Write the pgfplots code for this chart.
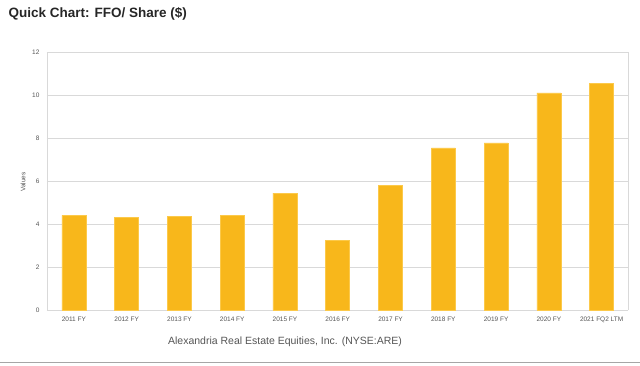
\documentclass[border=0pt]{standalone}
\usepackage{fontspec}
\setmainfont{Liberation Sans}
\usepackage{pgfplots}
\pgfplotsset{compat=1.18}
\definecolor{barc}{HTML}{F8B71B}
\definecolor{baredge}{HTML}{FCC94A}
\definecolor{gridc}{HTML}{D9D9D9}
\definecolor{txtc}{HTML}{555555}
\begin{document}
\begin{tikzpicture}
\path[use as bounding box] (0,0) rectangle (640pt,-365pt);
\node[anchor=west, font=\bfseries\fontsize{13.5}{14}\selectfont, text=black!85] at (5pt,-14pt) {Quick Chart: FFO/ Share (\$)};
\begin{axis}[
  at={(47pt,-310pt)}, anchor=south west,
  scale only axis, width=581pt, height=258pt,
  xmin=-0.51, xmax=10.5, ymin=0, ymax=12,
  ytick={0,2,...,12},
  xtick={0,...,10},
  xticklabels={2011 FY,2012 FY,2013 FY,2014 FY,2015 FY,2016 FY,2017 FY,2018 FY,2019 FY,2020 FY,2021 FQ2 LTM},
  axis line style={gridc},
  axis x line*=bottom,
  ymajorgrids, grid style={gridc, line width=0.8pt},
  major tick length=0pt,
  tick style={draw=none},
  ticklabel style={font=\fontsize{6.5}{7}\selectfont, text=txtc},
  /pgf/number format/assume math mode=true,
  yticklabel style={xshift=-4pt},
  xticklabel style={yshift=-3pt},
  ylabel={Values},
  every axis y label/.style={at={(ticklabel cs:0.5)}, rotate=90, anchor=south, font=\fontsize{6.5}{7}\selectfont, text=txtc, xshift=-1pt},
  clip=false,
]
\draw[gridc, line width=0.8pt] (rel axis cs:0,0) -- (rel axis cs:0,1);
\draw[gridc, line width=0.8pt] (rel axis cs:1,0) -- (rel axis cs:1,1);
\addplot[ybar, bar width=24pt, fill=barc, draw=baredge, line width=0.6pt] coordinates {
(0,4.40) (1,4.31) (2,4.34) (3,4.40) (4,5.44) (5,3.25) (6,5.78) (7,7.54) (8,7.77) (9,10.10) (10,10.54)};
\end{axis}
\node[font=\fontsize{10.5}{12}\selectfont, text=txtc] at (285pt,-342pt) {Alexandria Real Estate Equities, Inc. (NYSE:ARE)};
\draw[black!35, line width=1pt] (0,-362pt) -- (640pt,-362pt);
\end{tikzpicture}
\end{document}
